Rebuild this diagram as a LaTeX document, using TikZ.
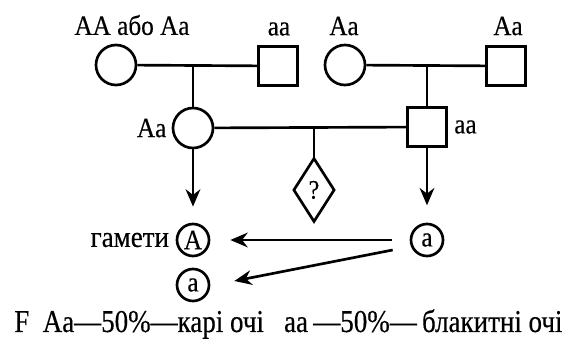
\documentclass[tikz,border=0pt]{standalone}
\usepackage{fontspec}
\setmainfont{Liberation Serif}[FakeStretch=0.9,FakeBold=0.4]
\newfontfamily\narrowfont{Liberation Serif}[FakeStretch=0.85,FakeBold=0.4]
\usetikzlibrary{shapes.geometric,arrows.meta,calc,positioning}

\begin{document}
\begin{tikzpicture}[x=0.75pt,y=-0.75pt,line width=2pt,
	>={Stealth[length=13pt,width=11pt]},
	female/.style={circle,draw,minimum size=30pt,inner sep=0pt},
	male/.style={rectangle,draw,minimum size=29pt,inner sep=0pt},
	unknown/.style={diamond,draw,minimum width=31pt,minimum height=48pt,inner sep=0pt,font=\fontsize{20}{24}\selectfont},
	gamete/.style={circle,draw,minimum size=24pt,inner sep=0pt,font=\fontsize{21}{24}\selectfont},
	genotype/.style={inner sep=0pt,font=\fontsize{21}{24}\selectfont}]
	\useasboundingbox (0,0) rectangle (576,341);

	% parents
	\node[female] (m1) at (116,65) {};
	\node[male] (f1) at (278,66) {};
	\node[female] (m2) at (345,65) {};
	\node[male] (f2) at (506,66) {};
	% children
	\node[female] (d) at (193,128) {};
	\node[male] (s) at (427,127) {};
	\node[unknown] (x) at (314,190) {?};
	% gametes
	\node[gamete] (gA) at (193,240) {A};
	\node[gamete] (ga) at (193,285) {a};
	\node[gamete] (gb) at (427,240) {a};

	% genotypes
	\node[genotype] (lm1) at (132,25) {AA або Aa};
	\node[genotype] (lf1) at (279,29) {aa};
	\node[genotype] (lm2) at (344,26) {Aa};
	\node[genotype] (lf2) at (508,26) {Aa};
	\node[genotype,left=3pt of d] (ld) {Aa};
	\node[genotype,right=4pt of s] (ls) {aa};
	\node[genotype,font=\fontsize{22.5}{26}\selectfont,left=4pt of gA] (lg) {гамети};

	\draw (m1) -- (f1);
	\draw (m2) -- (f2);
	\draw (d) -- (s);
	\draw (d) -- (d |- m1);
	\draw (s) -- (s |- m2);
	\draw (x) -- (x |- d);

	\draw[->,shorten >=12pt] (d) -- (gA);
	\draw[->,shorten >=13pt] (s) -- (gb);
	\draw[->,shorten <=13pt,shorten >=15pt] (gb) -- (gA);
	\draw[->] ([shift={(-17,10)}]gb.west) -- ([shift={(24,-4)}]ga.east);

	\node[anchor=base west,inner sep=0pt,font=\narrowfont\fontsize{23.8}{28}\selectfont] (res) at (13,332)
		{F\ \ Aa—50\%—карі очі\ \ \ aa\,—50\%—\,блакитні очі};
\end{tikzpicture}
\end{document}
